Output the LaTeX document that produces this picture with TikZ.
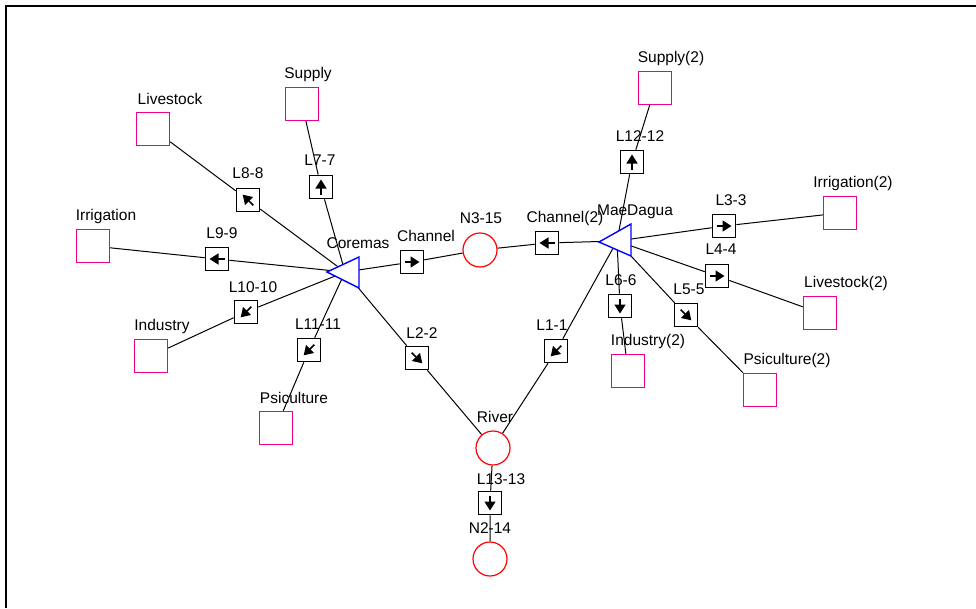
\documentclass[tikz,border=0pt]{standalone}
\usepackage{fontspec}
\setmainfont{Liberation Sans}
\usetikzlibrary{arrows.meta,backgrounds}
\tikzset{
 sink/.style={draw=magenta,line width=1.4pt,fill=white,minimum size=33pt,inner sep=0},
 junc/.style={draw=red,line width=1.2pt,fill=white,circle,minimum size=34pt,inner sep=0},
 lnk/.style={draw=black,line width=1.6pt,fill=white,minimum size=23pt,inner sep=0},
 lbl/.style={font=\fontsize{15.5}{18}\selectfont,inner sep=0},
 conn/.style={draw=black,line width=1pt},
 arr/.style={line width=1.5pt,-{Triangle[length=9pt,width=11pt]}},
 tri/.style={draw=blue,line width=1.4pt,fill=white}
}
\newcommand\lk[5]{%
  \node[lnk] (#1) at (#2) {};
  \draw[arr] ([shift={(#3+180:7.5)}]#1.center) -- ([shift={(#3:7.5)}]#1.center);
  \node[lbl] (#1-l) at (#5) {#4};}
\newcommand\sk[4]{%
  \node[sink] (#1) at (#2) {};
  \node[lbl] (#1-l) at (#4) {#3};}
\begin{document}
\begin{tikzpicture}[x=1pt,y=-1pt]
\useasboundingbox (0,0) rectangle (976,608);
\draw[line width=1.5pt] (6,608) -- (6,6) -- (976,6);

% sinks
\sk{live}{153,129}{Livestock}{170,99}
\sk{sup}{302,104}{Supply}{308,74}
\sk{irr}{93,246}{Irrigation}{106,216}
\sk{ind}{151,356}{Industry}{162,326}
\sk{psi}{276,428}{Psiculture}{294,398}
\sk{sup2}{655,88}{Supply(2)}{671,58}
\sk{irr2}{840,213}{Irrigation(2)}{853,183}
\sk{live2}{820,313}{Livestock(2)}{846,283}
\sk{ind2}{628,371}{Industry(2)}{648,341}
\sk{psi2}{760,390}{Psiculture(2)}{787,360}

% junctions
\node[junc] (n315) at (480,250) {};
\node[lbl] (n315-l) at (481,218) {N3-15};
\node[junc] (river) at (493,448) {};
\node[lbl] (river-l) at (495,417) {River};
\node[junc] (n214) at (490,559) {};
\node[lbl] (n214-l) at (490,528) {N2-14};

% reservoirs
\coordinate (cor) at (345,272);
\coordinate (mae) at (617,241);
\path[tri] (327,272) -- (359,257) -- (359,288) -- cycle;
\node[lbl] (cor-l) at (358,243) {Coremas};
\path[tri] (599,242) -- (631,224) -- (631,256) -- cycle;
\node[lbl] (mae-l) at (635,212) {MaeDagua};

% links
\lk{l88}{248,200}{225}{L8-8}{248,173}
\lk{l77}{321,187}{270}{L7-7}{320,160}
\lk{l99}{217,259}{180}{L9-9}{222,233}
\lk{ch}{412,262}{0}{Channel}{426,236}
\lk{l1010}{246,312}{135}{L10-10}{253,287}
\lk{l1111}{309,350}{135}{L11-11}{318,324}
\lk{l22}{417,358}{45}{L2-2}{422,333}
\lk{l11}{556,351}{135}{L1-1}{552,325}
\lk{ch2}{547,243}{180}{Channel(2)}{565,218}
\lk{l1212}{632,162}{270}{L12-12}{640,136}
\lk{l33}{724,226}{0}{L3-3}{731,200}
\lk{l44}{717,276}{0}{L4-4}{721,249}
\lk{l66}{620,306}{90}{L6-6}{621,280}
\lk{l55}{686,315}{45}{L5-5}{689,289}
\lk{l1313}{490,503}{90}{L13-13}{501,479}

\begin{pgfonlayer}{background}
\draw[conn] (cor) -- (l88) -- (live);
\draw[conn] (cor) -- (l77) -- (sup);
\draw[conn] (cor) -- (l99) -- (irr);
\draw[conn] (cor) -- (l1010) -- (ind);
\draw[conn] (cor) -- (l1111) -- (psi);
\draw[conn] (cor) -- (ch) -- (n315);
\draw[conn] (cor) -- (l22) -- (river);
\draw[conn] (mae) -- (l1212) -- (sup2);
\draw[conn] (mae) -- (l33) -- (irr2);
\draw[conn] (mae) -- (l44) -- (live2);
\draw[conn] (mae) -- (l66) -- (ind2);
\draw[conn] (mae) -- (l55) -- (psi2);
\draw[conn] (mae) -- (ch2) -- (n315);
\draw[conn] (mae) -- (l11) -- (river);
\draw[conn] (river) -- (l1313) -- (n214);
\end{pgfonlayer}
\end{tikzpicture}
\end{document}
